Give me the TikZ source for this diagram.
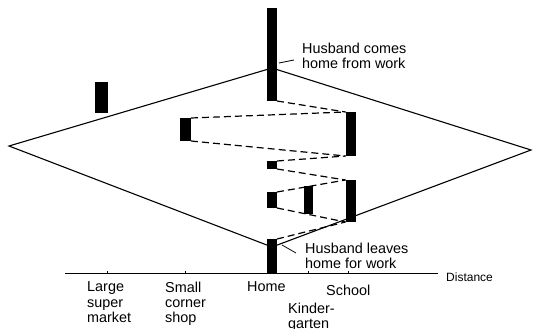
\documentclass[tikz,border=0pt]{standalone}
\usepackage{fontspec}
\setmainfont{Liberation Sans}
\begin{document}
\begin{tikzpicture}[x=1pt,y=-1pt,
  bar/.style={fill=black,draw=none,inner sep=0pt,outer sep=0pt},
  trip/.style={line width=1.2pt,dash pattern=on 7pt off 4pt},
  prism/.style={line width=1.1pt},
  axisline/.style={line width=0.9pt},
  lbl/.style={inner sep=0pt,anchor=north west,align=left,
    font=\fontsize{14.4}{15.3}\selectfont},
  small/.style={inner sep=0pt,anchor=north west,font=\fontsize{12}{14}\selectfont}]
\useasboundingbox (0,0) rectangle (533,329);

% potential path area (prism)
\coordinate (L) at (9,146);
\coordinate (T) at (272,68);
\coordinate (R) at (531,150);
\coordinate (B) at (272,247);
\draw[prism] (L) -- (T) -- (R) -- (B) -- cycle;

% distance axis
\coordinate (ax0) at (65,273);
\coordinate (ax1) at (438,273);
\draw[axisline] (ax0) -- (ax1);
\foreach \t in {107,185,308,348} \draw[axisline] (\t,273) -- (\t,270.5);
\node[small] (dist) at (446,272.4) {Distance};

% activity bars
\node[bar,minimum width=10pt,minimum height=93pt] (hometop) at (272,54.5) {};
\node[bar,minimum width=13pt,minimum height=31pt] (market) at (101.5,97.5) {};
\node[bar,minimum width=11pt,minimum height=23pt] (shop) at (185.5,129.5) {};
\node[bar,minimum width=10pt,minimum height=44pt] (schoolA) at (350.5,134) {};
\node[bar,minimum width=10pt,minimum height=8pt] (homedot) at (272,165) {};
\node[bar,minimum width=10pt,minimum height=16pt] (homemid) at (272,200) {};
\node[bar,minimum width=9pt,minimum height=28pt] (kinder) at (308.5,200) {};
\node[bar,minimum width=10pt,minimum height=42pt] (schoolB) at (350.5,201) {};
\node[bar,minimum width=10pt,minimum height=34pt] (homebot) at (272,256) {};

% trips
\draw[trip] (hometop.south east) -- (schoolA.north west);
\draw[trip] (shop.north east) -- (schoolA.north west);
\draw[trip] (shop.south east) -- (schoolA.south west);
\draw[trip] (homedot.north east) -- (schoolA.south west);
\draw[trip] (homedot.south east) -- (schoolB.north west);
\draw[trip] (homemid.north east) -- (schoolB.north west);
\draw[trip] (homemid.south east) -- (schoolB.south west);
\draw[trip] (homebot.north east) -- (schoolB.south west);

% annotations
\node[lbl] (comes) at (302,42.6) {Husband comes\\home from work};
\coordinate (c0) at (279,63);
\coordinate (c1) at (294,60);
\draw[line width=0.8pt] (c0) -- (c1);

\node[lbl] (leaves) at (305,242.6) {Husband leaves\\home for work};
\coordinate (l0) at (282,245);
\coordinate (l1) at (296,253);
\draw[line width=0.8pt] (l0) -- (l1);

% locations
\node[lbl] (lmarket) at (87,281.6) {Large\\super\\market};
\node[lbl] (lshop) at (165,281.6) {Small\\corner\\shop};
\node[lbl] (lhome) at (247,281.6) {Home};
\node[lbl] (lschool) at (326,284.6) {School};
\node[lbl] (lkinder) at (288,303) {Kinder-\\garten};
\end{tikzpicture}
\end{document}
